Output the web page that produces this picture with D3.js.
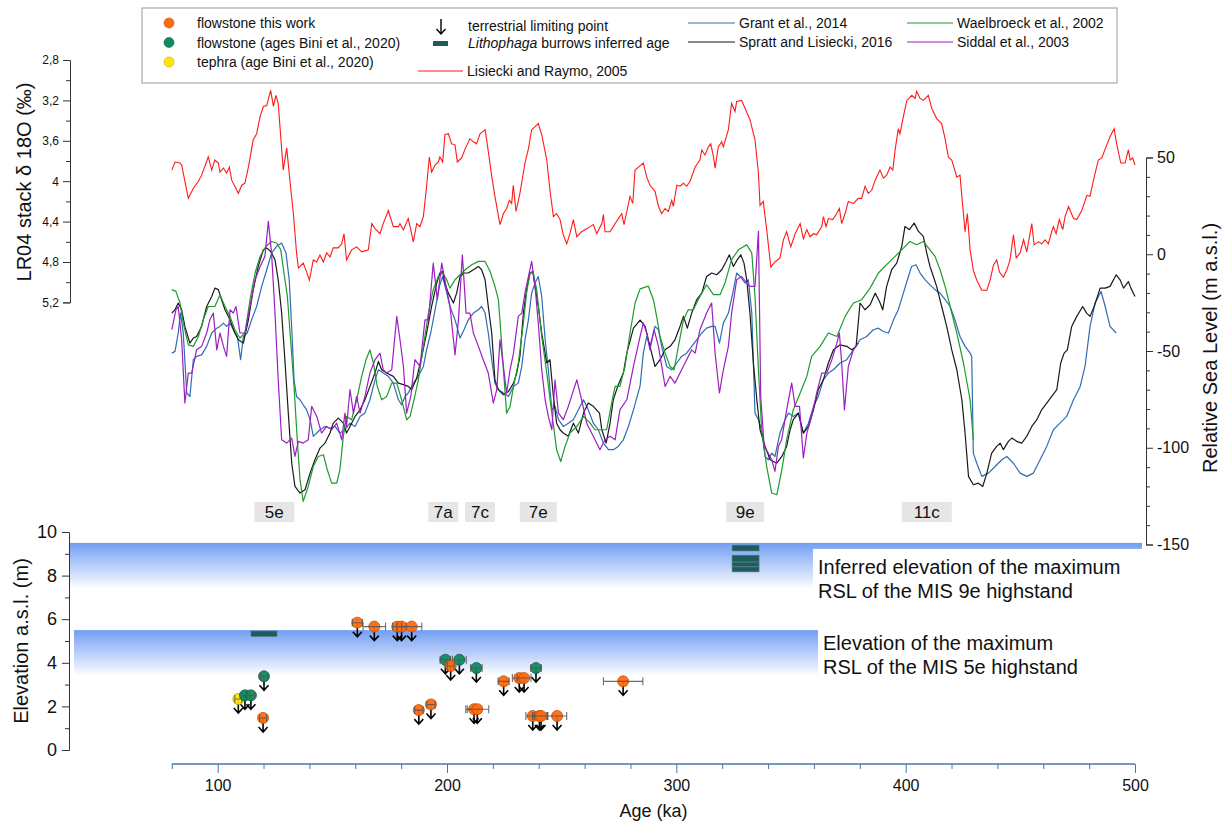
<!DOCTYPE html>
<html>
<head>
<meta charset="utf-8">
<script src="https://cdn.jsdelivr.net/npm/d3@7"></script>
<style>
body { margin: 0; background: #fff; }
svg { font-family: "Liberation Sans", Arial, sans-serif; }
</style>
</head>
<body>
<div id="chart"></div>
<script>
// ---- data (age ka, value) ----
const lr04 = [[80,3.89],[81.4,3.81],[83.6,3.82],[84.3,3.84],[87.2,4.17],[89.4,4.07],[91.6,4.00],[93.0,3.94],[95.9,3.76],[97.4,3.89],[98.8,3.79],[100.3,3.82],[101.0,3.91],[102.5,3.87],[103.9,3.92],[105.1,3.86],[106.1,3.99],[107.5,4.05],[109.0,4.12],[110.5,4.04],[111.9,4.02],[113.4,3.86],[115.5,3.59],[117.0,3.53],[118.5,3.36],[119.9,3.26],[121.4,3.25],[123.1,3.10],[124.3,3.26],[125.4,3.15],[126.4,3.23],[128.6,3.89],[130.1,3.67],[131.5,3.99],[133.0,4.32],[134.4,4.71],[135.2,4.86],[137.3,4.81],[138.8,4.90],[140.0,4.98],[141.7,4.78],[143.2,4.80],[144.6,4.73],[146.1,4.80],[147.5,4.71],[149.0,4.75],[150.4,4.66],[152.6,4.66],[154.1,4.62],[155.1,4.52],[156.2,4.78],[158.4,4.68],[160.6,4.65],[162.8,4.70],[165.7,4.68],[167.2,4.42],[168.6,4.47],[170.8,4.52],[172.2,4.42],[174.4,4.29],[176.6,4.45],[178.8,4.45],[179.5,4.42],[181.0,4.48],[183.1,4.37],[184.2,4.48],[185.3,4.60],[186.8,4.42],[188.2,4.45],[189.7,4.35],[191.1,4.05],[192.3,3.76],[193.3,3.91],[194.8,3.84],[196.2,3.81],[196.9,3.76],[198.1,3.81],[199.1,3.54],[200.6,3.53],[202.0,3.63],[203.5,3.64],[204.5,3.81],[206.4,3.77],[207.9,3.68],[210.0,3.58],[211.5,3.61],[212.9,3.63],[214.4,3.53],[216.6,3.49],[217.3,3.59],[219.5,3.95],[220.9,4.15],[223.1,4.43],[224.6,4.32],[226.0,4.27],[227.2,4.19],[228.2,4.22],[228.9,4.04],[230.1,4.30],[231.8,4.12],[234.0,3.82],[235.5,3.68],[236.9,3.49],[238.4,3.46],[239.8,3.43],[241.3,3.54],[243.5,3.79],[244.9,4.09],[246.4,4.35],[247.8,4.32],[249.3,4.38],[250.7,4.53],[252.2,4.62],[253.6,4.52],[255.1,4.38],[256.6,4.55],[258.7,4.50],[260.9,4.47],[262.4,4.45],[263.8,4.43],[265.3,4.52],[267.5,4.42],[268.2,4.33],[268.9,4.50],[271.1,4.50],[272.5,4.45],[274.7,4.37],[276.2,4.32],[277.2,4.43],[278.4,4.30],[279.8,4.15],[281.0,4.22],[282.0,3.89],[283.5,3.86],[285.6,3.82],[287.1,3.96],[288.5,4.04],[290.7,4.10],[292.2,4.25],[293.6,4.32],[295.1,4.27],[296.5,4.30],[298.0,4.19],[298.7,4.25],[300.2,4.04],[301.6,4.05],[303.1,4.02],[304.5,4.05],[306.0,4.00],[308.2,3.86],[310.3,3.79],[311.1,3.69],[312.5,3.74],[314.0,3.66],[315.0,3.63],[316.2,3.76],[316.9,3.87],[318.3,3.66],[319.8,3.61],[320.5,3.66],[322.7,3.49],[324.1,3.23],[325.6,3.31],[326.3,3.21],[328.5,3.20],[330.0,3.28],[332.1,3.39],[334.3,3.59],[335.8,3.92],[336.5,4.24],[337.9,4.20],[339.4,4.48],[341.2,4.85],[343.0,4.80],[345.2,4.76],[346.7,4.58],[348.1,4.50],[349.9,4.65],[351.8,4.52],[354.0,4.42],[355.4,4.57],[356.9,4.48],[358.3,4.55],[359.8,4.52],[361.2,4.53],[363.4,4.45],[364.1,4.35],[365.3,4.45],[366.3,4.37],[368.2,4.38],[369.9,4.32],[371.1,4.27],[372.1,4.42],[373.6,4.32],[375.0,4.20],[377.2,4.22],[379.4,4.17],[380.8,4.17],[382.3,4.05],[383.7,4.12],[385.2,4.09],[386.7,3.99],[388.8,3.89],[390.3,3.97],[391.7,3.94],[393.2,3.86],[394.4,3.89],[395.4,3.69],[396.8,3.48],[397.5,3.53],[399.0,3.36],[400.5,3.20],[402.7,3.15],[404.1,3.18],[404.8,3.11],[406.3,3.18],[407.7,3.20],[409.9,3.15],[411.4,3.28],[413.5,3.38],[415.7,3.43],[417.2,3.58],[418.6,3.76],[420.1,3.79],[422.3,3.96],[423.7,3.94],[424.5,4.15],[425.9,4.50],[426.9,4.32],[428.1,4.68],[429.5,4.88],[431.0,4.98],[433.2,5.08],[435.4,5.08],[436.8,4.98],[438.3,4.83],[439.7,4.78],[440.9,4.90],[442.6,4.95],[444.1,4.88],[445.5,4.78],[447.0,4.53],[448.2,4.76],[449.9,4.71],[451.4,4.58],[452.8,4.70],[455.0,4.42],[456.0,4.63],[457.9,4.60],[459.3,4.62],[460.8,4.58],[462.2,4.62],[463.7,4.50],[464.4,4.45],[465.6,4.52],[467.0,4.38],[468.5,4.48],[469.5,4.35],[471.0,4.25],[473.2,4.37],[474.6,4.38],[476.8,4.29],[479.0,4.14],[480.4,4.15],[481.9,3.99],[484.0,3.79],[485.5,3.77],[487.7,3.64],[489.1,3.56],[490.9,3.48],[492.0,3.63],[493.8,3.82],[495.7,3.82],[497.1,3.69],[497.9,3.79],[499.0,3.77],[500.0,3.84]];

const grant2014 = [[80,-51.1],[81.4,-50.2],[82.8,-40.7],[83.8,-30.4],[85.0,-40.7],[86.5,-71.7],[87.9,-73.5],[89.4,-54.5],[90.8,-52.8],[93.0,-52.0],[95.2,-47.6],[97.4,-40.7],[99.6,-38.2],[101.0,-37.3],[102.5,-35.6],[103.9,-37.3],[105.4,-35.6],[106.8,-39.0],[108.6,-42.5],[110.0,-54.5],[111.2,-42.5],[112.9,-40.7],[114.8,-33.9],[117.0,-27.0],[119.2,-16.6],[121.4,-8.0],[123.5,0.6],[125.7,4.1],[127.9,5.8],[129.8,0.6],[131.2,-13.2],[132.4,-40.7],[133.3,-64.9],[134.4,-73.5],[135.9,-75.2],[137.3,-77.8],[138.8,-80.4],[140.3,-85.5],[141.7,-94.1],[143.2,-92.4],[144.6,-90.7],[146.8,-89.0],[149.0,-89.9],[151.2,-89.0],[153.3,-92.4],[155.5,-90.7],[157.7,-87.3],[159.9,-89.0],[162.1,-83.8],[164.2,-82.1],[166.4,-75.2],[168.6,-64.9],[170.1,-59.7],[172.2,-61.4],[174.4,-63.1],[176.6,-66.6],[178.8,-75.2],[180.2,-77.8],[181.7,-73.5],[183.1,-71.7],[185.3,-66.6],[187.5,-63.1],[189.7,-58.0],[191.1,-49.4],[192.9,-40.7],[194.8,-28.7],[196.7,-16.6],[198.1,-11.5],[199.9,-20.1],[201.3,-27.0],[203.5,-33.9],[205.7,-43.3],[207.4,-39.0],[209.3,-33.9],[211.5,-30.4],[213.7,-28.7],[215.1,-27.0],[216.6,-30.4],[218.0,-40.7],[219.5,-54.5],[220.9,-66.6],[222.4,-70.0],[224.6,-71.7],[226.8,-73.5],[229.0,-68.3],[231.1,-66.6],[232.6,-58.0],[234.0,-44.2],[235.5,-33.9],[236.9,-20.1],[238.4,-14.9],[239.8,-11.5],[241.3,-21.8],[242.8,-44.2],[244.2,-59.7],[245.7,-80.4],[247.1,-78.6],[248.6,-85.5],[250.7,-89.0],[252.9,-87.3],[255.1,-85.5],[257.3,-80.4],[259.5,-75.2],[261.6,-80.4],[263.8,-87.3],[266.0,-90.7],[268.2,-97.6],[270.4,-101.0],[272.5,-101.0],[274.7,-99.3],[276.9,-95.9],[279.1,-89.0],[281.3,-80.4],[284.2,-68.0],[285.6,-51.1],[287.1,-42.5],[288.5,-47.6],[290.7,-37.3],[292.2,-39.0],[293.6,-47.6],[295.8,-58.0],[298.0,-59.7],[300.2,-56.2],[302.3,-52.8],[304.5,-51.1],[306.7,-47.6],[308.9,-44.2],[311.1,-40.7],[313.2,-38.2],[315.4,-37.3],[316.9,-37.3],[318.8,-45.9],[320.5,-35.6],[322.7,-30.4],[324.6,-20.1],[326.3,-9.7],[327.8,-11.5],[330.0,-14.9],[331.4,-13.2],[332.9,-30.4],[334.3,-82.1],[335.8,-85.5],[337.2,-90.7],[338.7,-104.5],[340.1,-106.2],[341.6,-102.8],[343.0,-104.5],[345.2,-92.4],[347.4,-85.5],[348.9,-82.1],[351.0,-83.8],[353.2,-82.1],[355.4,-92.4],[357.6,-87.3],[359.8,-78.6],[361.9,-73.5],[364.1,-64.9],[366.3,-61.4],[368.5,-59.7],[371.4,-56.2],[374.3,-54.5],[377.2,-49.4],[380.1,-44.2],[383.0,-42.5],[385.9,-39.0],[388.1,-38.2],[390.3,-39.9],[392.5,-40.7],[394.7,-33.9],[396.8,-28.7],[399.0,-20.1],[401.2,-11.5],[402.6,-6.3],[404.5,-5.4],[406.3,-9.7],[408.5,-13.2],[410.6,-15.8],[412.8,-18.3],[415.0,-20.1],[417.2,-23.5],[419.4,-27.0],[421.5,-33.9],[423.7,-42.5],[425.9,-47.6],[428.1,-51.1],[428.8,-52.8],[429.5,-102.8],[431.0,-108.0],[433.2,-114.8],[436.1,-113.1],[439.0,-109.7],[441.9,-106.2],[444.1,-104.5],[447.0,-108.0],[449.9,-113.1],[452.8,-114.8],[455.7,-113.1],[458.6,-106.2],[461.5,-99.3],[464.4,-90.7],[467.3,-87.3],[470.2,-83.8],[473.2,-75.2],[476.1,-68.3],[478.2,-58.0],[480.4,-37.3],[482.6,-25.2],[485.2,-19.2],[487.0,-27.0],[489.1,-37.3],[491.8,-40.7]];

const spratt2016 = [[80,-30.4],[81.4,-28.7],[82.8,-25.2],[84.3,-28.7],[85.7,-37.3],[87.9,-45.9],[89.4,-43.3],[90.8,-42.5],[93.0,-37.3],[95.2,-27.0],[97.4,-21.8],[98.8,-17.5],[100.3,-18.3],[101.7,-23.5],[103.2,-28.7],[105.4,-33.9],[107.5,-40.7],[109.0,-44.2],[111.2,-45.9],[113.4,-33.9],[115.5,-18.3],[117.7,-6.3],[119.9,2.3],[121.4,3.2],[123.1,1.5],[125.0,-2.8],[126.4,-13.2],[127.9,-30.4],[129.4,-56.2],[130.8,-82.1],[132.3,-108.0],[133.7,-120.0],[135.9,-123.4],[138.1,-121.7],[140.3,-113.1],[142.4,-106.2],[144.6,-100.2],[146.8,-97.6],[149.0,-92.4],[150.4,-87.3],[152.6,-84.7],[154.8,-87.3],[156.2,-92.4],[157.7,-89.0],[159.9,-83.8],[162.1,-80.4],[164.2,-75.2],[166.4,-68.3],[168.6,-61.4],[170.1,-55.4],[171.5,-59.7],[173.7,-61.4],[176.6,-63.1],[178.8,-66.6],[181.0,-67.4],[183.1,-68.3],[184.6,-70.0],[186.8,-64.0],[189.0,-52.8],[191.1,-40.7],[193.3,-26.9],[195.5,-15.0],[196.9,-9.7],[198.1,-8.9],[199.1,-14.9],[200.6,-20.1],[202.8,-25.2],[204.2,-20.1],[205.7,-11.5],[207.4,-9.7],[209.3,-9.7],[211.5,-8.0],[213.7,-6.3],[215.1,-8.0],[216.6,-13.2],[218.0,-27.0],[219.5,-40.7],[220.9,-64.9],[222.4,-70.0],[224.6,-72.6],[226.8,-70.9],[229.0,-66.6],[230.4,-61.4],[231.8,-52.8],[233.3,-30.4],[234.7,-18.3],[236.2,-9.7],[237.4,-8.9],[238.4,-16.6],[239.8,-27.0],[241.3,-40.7],[243.5,-56.2],[244.9,-54.5],[246.4,-73.5],[247.8,-87.3],[249.3,-90.7],[250.7,-92.4],[252.9,-94.1],[255.1,-87.3],[257.3,-92.4],[259.5,-82.1],[261.6,-76.9],[263.8,-78.6],[266.5,-82.1],[267.5,-90.7],[269.4,-97.6],[271.1,-87.3],[272.5,-75.2],[274.7,-67.4],[276.9,-61.4],[278.4,-51.1],[281.3,-38.2],[284.2,-34.0],[286.4,-37.3],[288.5,-47.6],[290.7,-58.0],[292.9,-54.5],[295.1,-49.4],[297.3,-47.6],[299.4,-44.2],[301.6,-37.3],[303.1,-32.1],[304.8,-38.2],[306.7,-30.4],[308.9,-23.5],[311.1,-20.1],[313.2,-11.5],[315.4,-9.7],[317.6,-10.6],[319.8,-8.0],[321.7,-3.7],[323.1,-0.3],[324.9,-6.3],[326.6,-2.8],[328.1,-0.3],[329.5,-4.6],[330.7,-13.2],[332.1,-30.4],[333.6,-56.2],[335.1,-75.2],[336.5,-90.7],[338.7,-99.3],[340.9,-106.2],[343.8,-108.0],[346.0,-104.5],[348.1,-99.3],[349.6,-90.7],[351.0,-85.5],[353.2,-82.1],[355.4,-92.4],[357.6,-89.0],[359.8,-80.4],[361.9,-70.0],[364.1,-64.9],[366.3,-56.2],[368.5,-49.4],[371.4,-46.8],[374.3,-47.6],[376.5,-49.4],[378.4,-47.6],[380.1,-25.2],[382.3,-28.7],[384.5,-26.1],[386.7,-20.1],[388.6,-24.4],[390.0,-28.7],[391.7,-16.6],[393.9,-8.0],[396.1,-4.6],[398.3,4.1],[399.7,14.4],[401.6,12.7],[403.7,16.1],[405.6,11.8],[407.7,9.2],[409.2,0.6],[410.6,-6.3],[412.1,-11.5],[413.5,-16.6],[415.7,-27.0],[417.9,-37.3],[420.1,-49.4],[422.3,-59.7],[424.5,-75.2],[425.9,-92.4],[427.4,-114.8],[429.5,-119.1],[431.7,-118.3],[433.6,-120.0],[435.4,-113.1],[437.5,-102.8],[439.7,-99.3],[441.2,-97.6],[442.6,-101.0],[444.8,-96.7],[446.3,-95.0],[448.4,-96.7],[450.6,-97.6],[452.8,-94.1],[455.0,-89.0],[457.2,-85.5],[459.3,-80.4],[461.5,-76.9],[463.7,-73.5],[465.9,-70.0],[467.6,-56.2],[469.1,-51.1],[470.5,-49.4],[472.4,-37.3],[474.6,-32.1],[477.2,-27.0],[478.9,-30.4],[480.4,-32.1],[482.2,-27.0],[484.8,-17.5],[487.0,-17.5],[489.1,-16.6],[491.8,-10.6],[493.5,-13.2],[495.0,-17.5],[497.1,-14.1],[498.2,-17.5],[500.0,-21.8]];

const waelbroeck2002 = [[80,-18.3],[81.8,-19.2],[83.6,-25.2],[85.0,-35.6],[87.2,-46.8],[89.4,-47.6],[91.6,-42.5],[93.7,-33.9],[95.9,-27.0],[98.8,-27.0],[101.0,-20.9],[103.2,-27.0],[105.4,-32.1],[107.5,-39.0],[109.7,-43.3],[111.9,-40.7],[114.1,-23.5],[116.3,-9.7],[118.5,-1.1],[121.1,4.1],[123.5,6.6],[125.7,5.8],[127.5,2.3],[128.9,-9.7],[130.4,-21.8],[131.8,-44.2],[133.3,-68.3],[134.7,-95.9],[135.9,-116.5],[137.3,-127.7],[139.5,-120.0],[141.7,-109.7],[143.9,-104.5],[146.1,-103.6],[147.8,-111.4],[149.7,-118.3],[151.9,-118.3],[153.3,-111.4],[154.8,-94.1],[156.2,-83.8],[158.4,-85.5],[160.6,-75.2],[162.8,-63.1],[164.7,-54.5],[166.4,-49.4],[167.9,-56.2],[169.6,-68.3],[171.5,-75.2],[173.7,-73.5],[175.9,-66.6],[178.1,-66.6],[180.2,-75.2],[182.4,-85.5],[183.9,-83.8],[185.6,-75.2],[187.5,-64.9],[189.7,-47.6],[191.9,-30.4],[194.0,-18.3],[196.2,-11.5],[198.1,-9.7],[199.9,-13.2],[201.3,-17.5],[203.5,-13.2],[205.7,-10.6],[207.9,-8.0],[210.8,-5.4],[213.7,-3.7],[216.6,-3.7],[218.8,-8.9],[220.9,-16.6],[222.4,-23.5],[223.4,-39.0],[224.6,-59.7],[226.0,-82.1],[227.5,-78.6],[229.0,-68.3],[231.1,-56.2],[233.3,-35.6],[234.7,-20.1],[236.2,-9.7],[237.6,-9.7],[239.1,-18.3],[241.3,-42.5],[243.5,-61.4],[245.7,-82.1],[247.8,-101.0],[249.6,-107.1],[251.5,-99.3],[253.6,-92.4],[256.6,-89.0],[259.5,-83.8],[262.4,-87.3],[264.5,-90.7],[266.7,-90.7],[269.6,-90.7],[271.8,-76.9],[273.3,-68.3],[275.4,-68.3],[277.6,-58.0],[279.8,-40.7],[282.0,-25.2],[284.2,-17.9],[287.8,-16.5],[290.0,-23.5],[291.4,-32.1],[292.9,-42.5],[295.1,-51.1],[297.3,-58.0],[299.0,-59.7],[300.9,-47.6],[303.1,-33.9],[305.2,-28.7],[307.4,-28.7],[310.3,-21.8],[313.2,-15.8],[316.2,-20.9],[319.1,-20.9],[321.2,-14.9],[324.1,-2.8],[327.1,2.3],[330.7,4.9],[332.9,0.6],[334.3,-21.8],[335.8,-59.7],[337.2,-90.7],[339.4,-109.7],[341.6,-123.4],[343.8,-124.3],[346.0,-111.4],[348.1,-95.9],[351.0,-80.4],[354.0,-71.7],[356.9,-63.1],[359.0,-52.8],[362.7,-47.6],[366.3,-40.7],[370.0,-42.5],[373.6,-32.1],[377.2,-25.2],[380.8,-23.5],[384.5,-17.5],[388.1,-9.7],[391.7,-5.4],[395.4,-1.1],[399.0,3.2],[401.9,6.6],[404.8,4.9],[407.7,6.6],[410.6,2.3],[412.8,-1.1],[415.0,-8.0],[417.2,-16.6],[419.4,-27.0],[422.3,-40.7],[425.2,-56.2],[428.1,-75.2],[429.5,-95.9]];

const siddall2003 = [[80,-39.0],[81.8,-28.7],[82.8,-27.0],[84.3,-44.2],[85.7,-76.9],[87.2,-61.4],[88.7,-61.4],[90.8,-49.4],[93.0,-47.6],[95.2,-40.7],[96.6,-33.9],[98.1,-30.4],[99.6,-49.4],[101.0,-40.7],[102.5,-47.6],[103.9,-52.8],[105.4,-28.7],[106.8,-30.4],[108.0,-27.0],[109.7,-40.7],[111.9,-40.7],[114.1,-27.0],[116.3,-13.2],[118.5,-6.3],[120.6,-1.1],[122.1,17.0],[123.5,0.6],[125.0,-30.4],[126.4,-64.9],[127.9,-95.9],[130.1,-97.6],[132.3,-95.0],[133.7,-104.5],[135.2,-96.7],[137.3,-97.6],[139.5,-95.9],[141.0,-78.6],[143.2,-83.8],[145.3,-92.4],[147.5,-89.0],[149.7,-90.7],[151.9,-87.3],[154.1,-95.9],[155.5,-82.1],[156.2,-89.0],[157.7,-70.0],[159.2,-82.1],[160.6,-73.5],[162.1,-82.1],[164.2,-73.5],[166.4,-61.4],[168.6,-54.5],[170.8,-51.1],[172.2,-59.7],[173.7,-61.4],[175.9,-59.7],[178.1,-32.1],[179.5,-44.2],[181.0,-58.0],[182.4,-82.1],[184.2,-73.5],[186.0,-54.5],[188.2,-58.0],[190.4,-33.9],[191.9,-33.9],[194.0,-4.6],[195.8,-23.5],[197.7,-4.6],[199.6,-16.6],[201.3,-27.0],[203.5,-52.0],[205.0,-33.9],[206.7,-0.3],[208.3,-30.4],[210.0,-30.4],[211.5,-40.7],[213.7,-47.6],[215.8,-54.5],[218.0,-61.4],[220.2,-76.9],[221.7,-70.0],[223.1,-44.2],[224.6,-58.0],[226.0,-71.7],[227.5,-59.7],[229.0,-51.1],[231.1,-32.1],[232.6,-30.4],[234.0,-20.1],[235.5,-11.5],[236.9,-3.7],[238.4,-16.6],[239.8,-35.6],[241.3,-59.7],[242.8,-75.2],[244.2,-83.8],[245.7,-90.7],[247.1,-64.9],[248.6,-82.1],[250.7,-85.5],[252.9,-78.6],[256.6,-64.9],[258.7,-75.2],[260.9,-87.3],[263.8,-94.1],[266.7,-101.0],[268.9,-95.9],[271.1,-94.1],[273.3,-95.9],[275.4,-80.4],[278.4,-75.2],[281.3,-58.0],[284.2,-42.5],[285.6,-35.6],[287.1,-40.7],[288.5,-49.4],[290.3,-39.0],[292.2,-47.6],[295.1,-68.3],[297.3,-63.1],[299.4,-66.6],[301.6,-61.4],[304.5,-54.5],[306.7,-49.4],[308.2,-51.1],[310.3,-39.0],[313.2,-30.4],[315.4,-25.2],[316.9,-51.1],[318.8,-71.7],[320.5,-59.7],[322.7,-47.6],[324.1,-30.4],[326.3,-13.2],[328.5,-11.5],[330.7,-14.9],[332.1,-16.6],[334.3,-16.6],[335.8,11.8],[336.8,-73.5],[338.3,-99.3],[340.1,-102.8],[341.6,-106.2],[343.0,-112.2],[344.5,-99.3],[345.9,-95.9],[348.1,-80.4],[350.3,-66.6],[351.8,-78.6],[353.7,-78.6],[355.4,-105.3],[356.9,-92.4],[359.0,-83.8],[361.2,-71.7],[363.4,-61.4],[365.6,-61.4],[367.8,-54.5],[370.0,-45.9],[371.1,-40.7],[372.1,-56.2],[373.3,-80.4],[375.0,-58.0],[377.2,-49.4],[379.4,-45.9]];

// elevation points: [age ka, age error ka, elevation m]
const flowstoneThisWork = [[119.8,1.5,1.47],[160.9,2.2,5.84],[168.3,4.9,5.66],[178.3,2,5.66],[180.2,2,5.66],[184.6,4.4,5.66],[187.7,1.8,1.83],[193.0,1.8,2.09],[201.6,1.5,3.85],[211.8,3,1.87],[213.2,5,1.87],[224.7,2.4,3.15],[231.5,3,3.30],[233.6,3,3.30],[237.4,3,1.56],[240.3,3,1.56],[241.0,3,1.56],[248.0,4.2,1.56],[276.8,8.6,3.15]];
const flowstoneBini = [[111.9,1.5,2.51],[114.5,1.5,2.51],[120.2,1.5,3.38],[199.3,2.3,4.14],[205.4,3,4.14],[212.8,2.5,3.76],[238.8,2.3,3.76]];
const tephraBini = [[109.0,1.5,2.34]];
// Lithophaga burrows: [age min, age max, elev min, elev max]
const lithophaga = [[114.5,125.9,5.2,5.46],[324.3,336.1,9.13,9.4],[324.3,336.1,8.62,8.94],[324.3,336.1,8.4,8.62],[324.3,336.1,8.17,8.4]];
// highstand bands (top elevation, m)
const bandTops = [9.5, 5.5];

const misLabels = ["5e","7a","7c","7e","9e","11c"];
const misAges = [124.7,198.4,214.4,239.8,330.0,409.2];
const misBoxW = [40,30,30,37,38,50];

const d18oTicks = [2.8,3.2,3.6,4,4.4,4.8,5.2];
const rslTicks = [50,0,-50,-100,-150];
const elevTicks = [0,2,4,6,8,10];
const ageTicks = [100,200,300,400,500];

// ---- layout ----
const width = 1226, height = 823;
const svg = d3.select("#chart").append("svg")
  .attr("width", width).attr("height", height);

const x = d3.scaleLinear().domain([80, 500]).range([171.8, 1135]);
const yD = d3.scaleLinear().domain([2.8, 5.2]).range([60, 302.4]);
const yR = d3.scaleLinear().domain([-150, 50]).range([544.5, 157.5]);
const yE = d3.scaleLinear().domain([0, 10]).range([750, 532]);

const defs = svg.append("defs");
const grad = defs.append("linearGradient").attr("id", "band")
  .attr("x1", 0).attr("y1", 0).attr("x2", 0).attr("y2", 1);
grad.append("stop").attr("offset", "0%").attr("stop-color", "#739ef4");
grad.append("stop").attr("offset", "100%").attr("stop-color", "#ffffff");

// ---- bottom panel: bands ----
svg.append("rect").attr("x", 70).attr("y", yE(bandTops[0]))
  .attr("width", 1072).attr("height", 46).attr("fill", "url(#band)");
svg.append("rect").attr("x", 74).attr("y", yE(bandTops[1]))
  .attr("width", 744).attr("height", 46).attr("fill", "url(#band)");
svg.append("rect").attr("x", 813).attr("y", yE(bandTops[0]) + 6)
  .attr("width", 329).attr("height", 56).attr("fill", "#fff");

const note = svg.append("g").attr("font-size", 20).attr("fill", "#111");
note.append("text").attr("x", 818).attr("y", 574).text("Inferred elevation of the maximum");
note.append("text").attr("x", 818).attr("y", 598).text("RSL of the MIS 9e highstand");
note.append("text").attr("x", 823).attr("y", 650).text("Elevation of the maximum");
note.append("text").attr("x", 823).attr("y", 674).text("RSL of the MIS 5e highstand");

// lithophaga bars
svg.append("g").selectAll("rect").data(lithophaga).join("rect")
  .attr("x", d => x(d[0])).attr("width", d => x(d[1]) - x(d[0]))
  .attr("y", d => yE(d[3])).attr("height", d => yE(d[2]) - yE(d[3]))
  .attr("fill", "#1f5b5e").attr("stroke", "#5d8a8c").attr("stroke-width", 0.6);

// ---- MIS labels ----
const mis = svg.append("g");
misLabels.forEach((t, i) => {
  mis.append("rect").attr("x", x(misAges[i]) - misBoxW[i] / 2).attr("y", 502)
    .attr("width", misBoxW[i]).attr("height", 20).attr("fill", "#e6e6e6");
  mis.append("text").attr("x", x(misAges[i])).attr("y", 518)
    .attr("text-anchor", "middle").attr("font-size", 17).attr("fill", "#111").text(t);
});

// ---- top panel curves ----
const lineD = d3.line().x(d => x(d[0])).y(d => yD(d[1]));
const lineR = d3.line().x(d => x(d[0])).y(d => yR(d[1]));

svg.append("path").datum(lr04).attr("d", lineD)
  .attr("fill", "none").attr("stroke", "#ff1a1a").attr("stroke-width", 1.1);

const series = [
  [grant2014, "#2f6db3"],
  [spratt2016, "#1a1a1a"],
  [waelbroeck2002, "#1e9a2e"],
  [siddall2003, "#9b1fc2"]
];
series.forEach(([data, col]) => {
  svg.append("path").datum(data).attr("d", lineR)
    .attr("fill", "none").attr("stroke", col).attr("stroke-width", 1.2)
    .attr("stroke-linejoin", "round");
});

// ---- axes ----
function styleAxis(g, col) {
  g.selectAll(".domain").attr("stroke", col);
  g.selectAll(".tick line").attr("stroke", col);
  g.selectAll("text").attr("fill", "#111");
}

// left d18O axis
const axD = svg.append("g").attr("transform", "translate(70,0)")
  .call(d3.axisLeft(yD).tickValues(d18oTicks).tickSize(7).tickPadding(4)
    .tickFormat(d => String(d).replace(".", ",")))
  .attr("font-size", 12).attr("font-family", null);
axD.call(g => styleAxis(g, "#333"));
svg.append("g").attr("transform", "translate(70,0)")
  .call(d3.axisLeft(yD).tickValues(d3.range(3.0, 5.1, 0.4)).tickSize(4).tickFormat(""))
  .call(g => g.select(".domain").remove())
  .call(g => styleAxis(g, "#333"));
svg.append("text").attr("transform", "translate(31,182) rotate(-90)")
  .attr("text-anchor", "middle").attr("font-size", 20).attr("fill", "#111")
  .text("LR04 stack δ 18O (‰)");

// right RSL axis
const axR = svg.append("g").attr("transform", "translate(1146,0)")
  .call(d3.axisRight(yR).tickValues(rslTicks).tickSize(7).tickPadding(4)
    .tickFormat(d => String(d)))
  .attr("font-size", 16).attr("font-family", null);
axR.call(g => styleAxis(g, "#333"));
svg.append("g").attr("transform", "translate(1146,0)")
  .call(d3.axisRight(yR).tickValues(d3.range(-140, 50, 10).filter(v => v % 50 !== 0)).tickSize(4).tickFormat(""))
  .call(g => g.select(".domain").remove())
  .call(g => styleAxis(g, "#333"));
svg.append("text").attr("transform", "translate(1217,348) rotate(-90)")
  .attr("text-anchor", "middle").attr("font-size", 20).attr("fill", "#111")
  .text("Relative Sea Level (m a.s.l.)");

// elevation axis
const axE = svg.append("g").attr("transform", "translate(69,0)")
  .call(d3.axisLeft(yE).tickValues(elevTicks).tickSize(7).tickPadding(5)
    .tickFormat(d => String(d)))
  .attr("font-size", 18).attr("font-family", null);
axE.call(g => styleAxis(g, "#333"));
svg.append("g").attr("transform", "translate(69,0)")
  .call(d3.axisLeft(yE).tickValues([1,3,5,7,9]).tickSize(4).tickFormat(""))
  .call(g => g.select(".domain").remove())
  .call(g => styleAxis(g, "#333"));
svg.append("text").attr("transform", "translate(28,641) rotate(-90)")
  .attr("text-anchor", "middle").attr("font-size", 20).attr("fill", "#111")
  .text("Elevation a.s.l. (m)");

// age axis
const axA = svg.append("g").attr("transform", "translate(0,764)")
  .call(d3.axisBottom(x).tickValues(ageTicks).tickSize(9).tickPadding(7)
    .tickFormat(d => String(d)))
  .attr("font-size", 16).attr("font-family", null);
axA.call(g => styleAxis(g, "#4a76b2"));
axA.select(".domain").attr("d", `M${x(80)},0H${x(500)}`).attr("stroke-width", 1.5);
svg.append("g").attr("transform", "translate(0,764)")
  .call(d3.axisBottom(x).tickValues(d3.range(80, 500, 20).filter(v => v % 100 !== 0)).tickSize(5).tickFormat(""))
  .call(g => g.select(".domain").remove())
  .call(g => styleAxis(g, "#4a76b2"));
svg.append("text").attr("x", x(290)).attr("y", 817)
  .attr("text-anchor", "middle").attr("font-size", 18).attr("fill", "#111")
  .text("Age (ka)");

// ---- points ----
function arrowPath(cx, cy, len) {
  return `M${cx},${cy}V${cy + len}M${cx - 4.5},${cy + len - 5}L${cx},${cy + len}L${cx + 4.5},${cy + len - 5}`;
}
const pts = [
  ...tephraBini.map(d => ({ d, fill: "#ffe600", stroke: "#b9a100" })),
  ...flowstoneBini.map(d => ({ d, fill: "#12895f", stroke: "#0b5e40" })),
  ...flowstoneThisWork.map(d => ({ d, fill: "#ff6a10", stroke: "#c24d00" }))
];
const pg = svg.append("g");
pg.selectAll("path.arr").data(pts).join("path").attr("class", "arr")
  .attr("d", p => arrowPath(x(p.d[0]), yE(p.d[2]), 14))
  .attr("fill", "none").attr("stroke", "#000").attr("stroke-width", 1.6);
pts.forEach(p => {
  const cx = x(p.d[0]), cy = yE(p.d[2]);
  pg.append("circle").attr("cx", cx).attr("cy", cy).attr("r", 5.5)
    .attr("fill", p.fill).attr("stroke", p.stroke).attr("stroke-width", 0.8).attr("fill-opacity", 0.95);
  const x0 = x(p.d[0] - p.d[1]), x1 = x(p.d[0] + p.d[1]);
  pg.append("path")
    .attr("d", `M${x0},${cy}H${x1}M${x0},${cy - 4}V${cy + 4}M${x1},${cy - 4}V${cy + 4}`)
    .attr("fill", "none").attr("stroke", "#555").attr("stroke-width", 1.1).attr("stroke-opacity", 0.85);
});

// ---- legend ----
const lg = svg.append("g").attr("font-size", 14).attr("fill", "#111");
lg.append("rect").attr("x", 142).attr("y", 8).attr("width", 975).attr("height", 75)
  .attr("fill", "#fff").attr("stroke", "#aaa").attr("stroke-width", 1.2);
const markerRows = [["#ff6a10", "flowstone this work"], ["#12895f", "flowstone (ages Bini et al., 2020)"], ["#ffe600", "tephra (age Bini et al., 2020)"]];
markerRows.forEach(([c, t], i) => {
  const yy = 23 + i * 19.5;
  lg.append("circle").attr("cx", 169).attr("cy", yy).attr("r", 5).attr("fill", c)
    .attr("stroke", d3.color(c).darker(0.8)).attr("stroke-width", 0.6);
  lg.append("text").attr("x", 197).attr("y", yy + 5).text(t);
});
lg.append("path").attr("d", arrowPath(441, 19, 15)).attr("fill", "none")
  .attr("stroke", "#000").attr("stroke-width", 1.4);
lg.append("text").attr("x", 468).attr("y", 31).text("terrestrial limiting point");
lg.append("rect").attr("x", 433).attr("y", 41).attr("width", 15).attr("height", 5).attr("fill", "#1f5b5e");
const lt = lg.append("text").attr("x", 468).attr("y", 48);
lt.append("tspan").attr("font-style", "italic").text("Lithophaga");
lt.append("tspan").text(" burrows inferred age");
const lineRows = [
  [418, 463, 71, "#ff1a1a", "Lisiecki and Raymo, 2005"],
  [688, 735, 23, "#2f6db3", "Grant et al., 2014"],
  [688, 735, 42, "#1a1a1a", "Spratt and Lisiecki, 2016"],
  [907, 953, 23, "#1e9a2e", "Waelbroeck et al., 2002"],
  [907, 953, 42, "#9b1fc2", "Siddal et al., 2003"]
];
lineRows.forEach(([a, b, yy, c, t]) => {
  lg.append("line").attr("x1", a).attr("x2", b).attr("y1", yy).attr("y2", yy)
    .attr("stroke", c).attr("stroke-width", 1.2);
  lg.append("text").attr("x", b + 4).attr("y", yy + 5).text(t);
});
</script>
</body>
</html>
